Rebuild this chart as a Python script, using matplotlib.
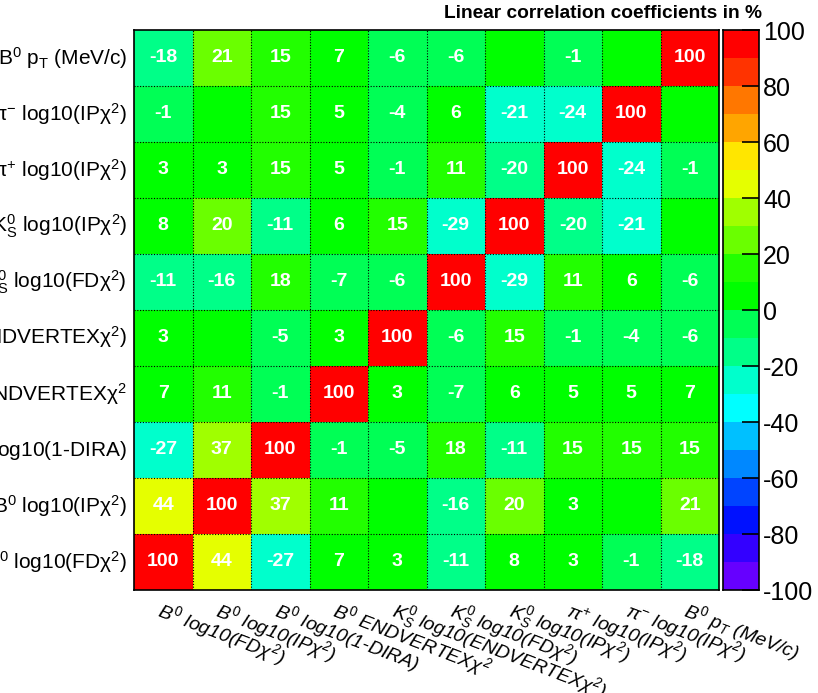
import numpy as np
import matplotlib
matplotlib.use("Agg")
import matplotlib.pyplot as plt
from matplotlib.colors import ListedColormap, BoundaryNorm

plt.rcParams['font.family'] = ['Liberation Sans', 'DejaVu Sans']
plt.rcParams['mathtext.fontset'] = 'custom'
plt.rcParams['mathtext.rm'] = 'Liberation Sans'
plt.rcParams['mathtext.it'] = 'Liberation Sans:italic'
plt.rcParams['mathtext.bf'] = 'Liberation Sans:bold'
plt.rcParams['mathtext.default'] = 'regular'
plt.rcParams['axes.unicode_minus'] = False

# variable names, bottom-to-top on y and left-to-right on x
y_labels = [
    r"B$^{0}$ log10(FD$\chi^{2}$)",
    r"B$^{0}$ log10(IP$\chi^{2}$)",
    r"B$^{0}$ log10(1-DIRA)",
    r"B$^{0}$ ENDVERTEX$\chi^{2}$",
    r"K$^{0}_{S}$ log10(ENDVERTEX$\chi^{2}$)",
    r"K$^{0}_{S}$ log10(FD$\chi^{2}$)",
    r"K$^{0}_{S}$ log10(IP$\chi^{2}$)",
    r"$\pi^{+}$ log10(IP$\chi^{2}$)",
    r"$\pi^{-}$ log10(IP$\chi^{2}$)",
    r"B$^{0}$ p$_{T}$ (MeV/c)",
]
x_labels = [
    r"$\mathit{B}^{\mathit{0}}$ log10(FD$\mathit{\chi}^{2}$)",
    r"$\mathit{B}^{\mathit{0}}$ log10(IP$\mathit{\chi}^{2}$)",
    r"$\mathit{B}^{\mathit{0}}$ log10(1-DIRA)",
    r"$\mathit{B}^{\mathit{0}}$ ENDVERTEX$\mathit{\chi}^{2}$",
    r"$\mathit{K}^{\mathit{0}}_{\mathit{S}}$ log10(ENDVERTEX$\mathit{\chi}^{2}$)",
    r"$\mathit{K}^{\mathit{0}}_{\mathit{S}}$ log10(FD$\mathit{\chi}^{2}$)",
    r"$\mathit{K}^{\mathit{0}}_{\mathit{S}}$ log10(IP$\mathit{\chi}^{2}$)",
    r"$\mathit{\pi}^{+}$ log10(IP$\mathit{\chi}^{2}$)",
    r"$\mathit{\pi}^{-}$ log10(IP$\mathit{\chi}^{2}$)",
    r"$\mathit{B}^{\mathit{0}}$ $\mathit{p}_{\mathit{T}}$ (MeV/c)",
]

# correlation coefficients in %, row i = y variable i (bottom first)
row_b_fd     = [100, 44, -27, 7, 3, -11, 8, 3, -1, -18]
row_b_ip     = [44, 100, 37, 11, 0, -16, 20, 3, 0, 21]
row_b_dira   = [-27, 37, 100, -1, -5, 18, -11, 15, 15, 15]
row_b_endv   = [7, 11, -1, 100, 3, -7, 6, 5, 5, 7]
row_ks_endv  = [3, 0, -5, 3, 100, -6, 15, -1, -4, -6]
row_ks_fd    = [-11, -16, 18, -7, -6, 100, -29, 11, 6, -6]
row_ks_ip    = [8, 20, -11, 6, 15, -29, 100, -20, -21, 0]
row_pip_ip   = [3, 3, 15, 5, -1, 11, -20, 100, -24, -1]
row_pim_ip   = [-1, 0, 15, 5, -4, 6, -21, -24, 100, 0]
row_b_pt     = [-18, 21, 15, 7, -6, -6, 0, -1, 0, 100]

corr = np.array([row_b_fd, row_b_ip, row_b_dira, row_b_endv, row_ks_endv,
                 row_ks_fd, row_ks_ip, row_pip_ip, row_pim_ip, row_b_pt], dtype=float)

# ROOT-like palette, 20 bands from -100 to 100
palette = ["#6600FF", "#3300FF", "#0011FF", "#0044FF", "#0088FF",
           "#00C0FF", "#00FFFF", "#00FFCC", "#00FF88", "#00FF55",
           "#00FF00", "#22FF00", "#6AFF00", "#A0FF00", "#E5FF00",
           "#FFE600", "#FFA500", "#FF7700", "#FF3300", "#FF0000"]
bounds = np.arange(-100, 101, 10)
cmap = ListedColormap(palette)
norm = BoundaryNorm(bounds, cmap.N, clip=True)

W, H = 818, 693
fig = plt.figure(figsize=(W / 100, H / 100), dpi=100)
ax = fig.add_axes([134 / W, 1 - 590 / H, 585 / W, 560 / H])
cax = fig.add_axes([723 / W, 1 - 590 / H, 36 / W, 560 / H])

n = len(y_labels)
ax.pcolormesh(np.arange(n + 1), np.arange(n + 1), corr, cmap=cmap, norm=norm)
ax.set_xlim(0, n)
ax.set_ylim(0, n)

# dotted cell borders
for k in range(1, n):
    ax.axvline(k, color='black', linestyle=(0, (1, 1.5)), linewidth=0.8)
    ax.axhline(k, color='black', linestyle=(0, (1, 1.5)), linewidth=0.8)

for i in range(n):
    for j in range(n):
        v = corr[i, j]
        if v != 0:
            ax.text(j + 0.5, i + 0.5, f"{int(v)}", ha='center', va='center',
                    color='white', fontsize=14, fontweight='bold')

ax.set_xticks([])
ax.set_yticks([])
for sp in ax.spines.values():
    sp.set_linewidth(1.2)

# row labels, right aligned next to the matrix
for i, lab in enumerate(y_labels):
    ax.text(-0.12, i + 0.5, lab, ha='right', va='center', fontsize=15,
            clip_on=False)

# column labels, rotated going down to the right
for j, lab in enumerate(x_labels):
    ax.text(j + 0.5, -0.14, lab, ha='left', va='top', rotation=-21,
            rotation_mode='anchor', fontsize=14, fontstyle='italic', clip_on=False)

# colour scale
cb_vals = np.arange(-100, 101, 10)
cax.pcolormesh([0, 1], cb_vals, (cb_vals[:-1] + 5).reshape(-1, 1), cmap=cmap, norm=norm)
cax.set_xlim(0, 1)
cax.set_ylim(-100, 100)
cax.set_xticks([])
cax.yaxis.tick_right()
cax.set_yticks(np.arange(-100, 101, 20))
cax.tick_params(axis='y', direction='in', length=12, width=1.2, labelsize=18, pad=3)
for sp in cax.spines.values():
    sp.set_linewidth(1.2)

fig.text(762 / W, 1 - 14 / H, "Linear correlation coefficients in %", ha='right',
         va='center', fontsize=13.8, fontweight='bold')

fig.savefig("out.png", dpi=100)
